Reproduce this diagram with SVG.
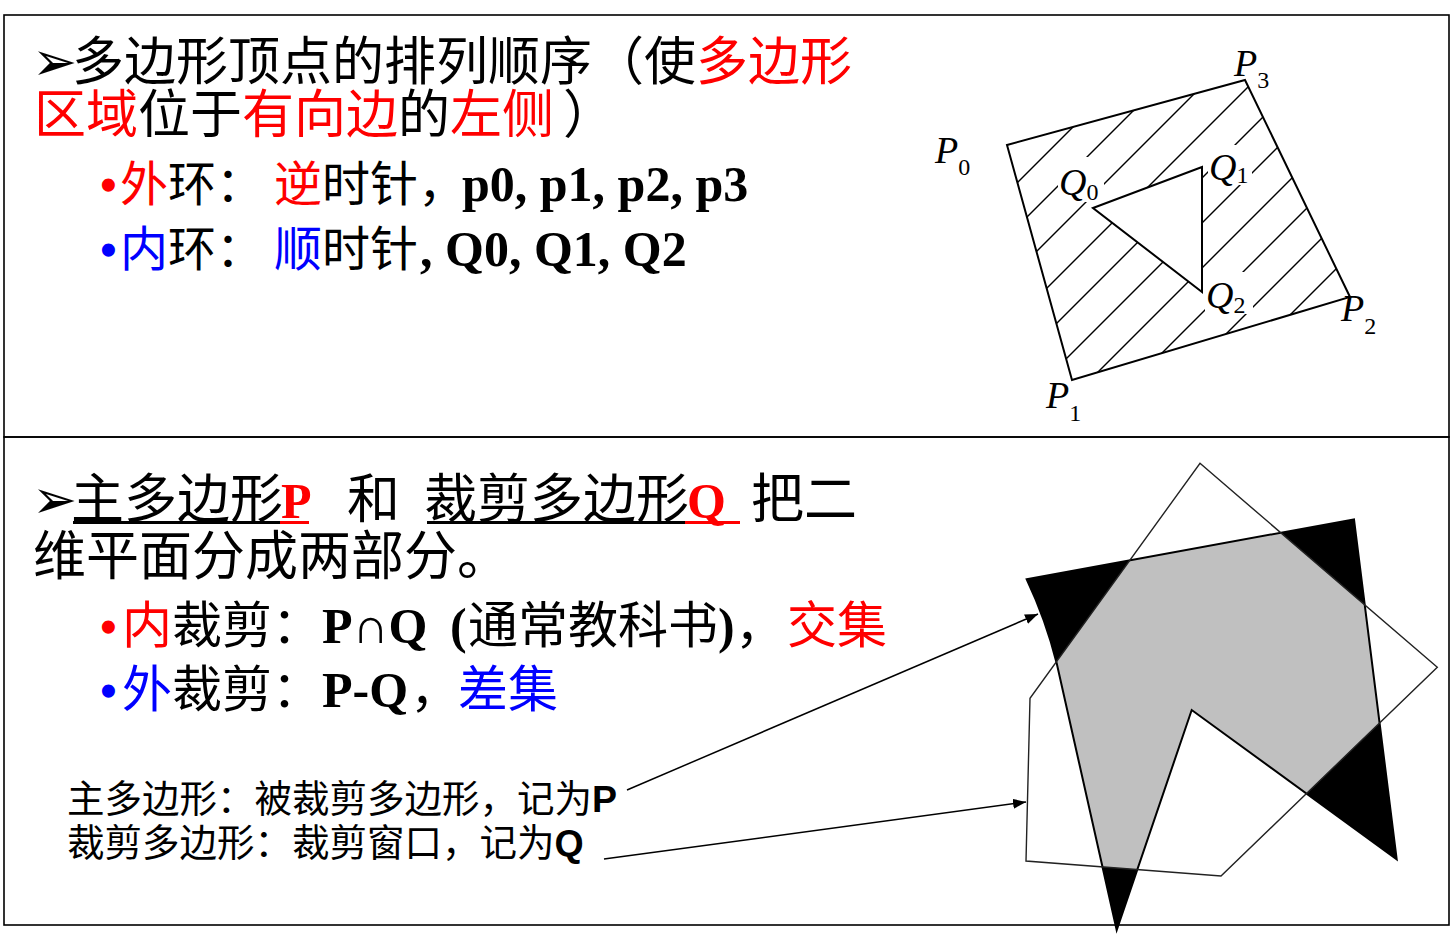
<svg xmlns="http://www.w3.org/2000/svg" width="1456" height="936" viewBox="0 0 1456 936">
<style>
.cjk{font-family:"Noto Sans CJK SC",sans-serif}
.tnr{font-family:"Liberation Serif","Noto Sans CJK SC",serif;font-weight:bold}
.sym{font-family:"DejaVu Sans",sans-serif}
.lbl{font-family:"Liberation Serif",serif;font-style:italic}
.sub{font-family:"Liberation Serif",serif;font-style:normal}
.r{fill:#ff0000}
.b{fill:#0000ff}
.k{fill:#000000}
.frame{fill:none;stroke:#000;stroke-width:1.6}
.hatch{stroke:#000;stroke-width:1.4}
.edge{fill:none;stroke:#000;stroke-width:2}
.conn{stroke:#000;stroke-width:1.5;fill:none}
</style>
<defs>
<marker id="ah" markerUnits="userSpaceOnUse" markerWidth="14" markerHeight="12" refX="13" refY="5" orient="auto">
<path d="M0,0 L13,5 L0,10 z" fill="#000"/>
</marker>
<clipPath id="ring">
<path clip-rule="evenodd" d="M1007,145 L1245,80 L1350,297 L1072,380 Z M1093,208 L1202,167 L1202,292 Z"/>
</clipPath>
<clipPath id="qclip">
<path d="M1200,463.3 L1437.3,667.3 L1221,876 L1026,861 L1030,698.3 Z"/>
</clipPath>
</defs>
<rect width="1456" height="936" fill="#fff"/>
<g id="frame">
<rect class="frame" x="4" y="15" width="1445" height="422"/>
<rect class="frame" x="4" y="437" width="1445" height="488"/>
</g>

<g id="top-text">
<text class="cjk k" y="80" font-size="52"><tspan class="sym" x="32" font-size="54">➢</tspan><tspan x="72">多边形顶点的排列顺序（使</tspan><tspan class="r">多边形</tspan></text>
<text class="cjk" y="133" font-size="52"><tspan x="34" class="r">区域</tspan><tspan class="k">位于</tspan><tspan class="r">有向边</tspan><tspan class="k">的</tspan><tspan class="r">左侧</tspan><tspan class="k" x="563">）</tspan></text>
<text id="line-outer" class="cjk" y="201" font-size="48"><tspan class="tnr r" x="100">•</tspan><tspan class="r" x="120">外</tspan><tspan class="k">环：</tspan><tspan class="r" x="274">逆</tspan><tspan class="k">时针，</tspan><tspan class="tnr k" x="462" font-size="50">p0, p1, p2, p3</tspan></text>
<text id="line-inner" class="cjk" y="266" font-size="48"><tspan class="tnr b" x="100">•</tspan><tspan class="b" x="120">内</tspan><tspan class="k">环：</tspan><tspan class="b" x="274">顺</tspan><tspan class="k">时针</tspan><tspan class="tnr k" x="420" font-size="50">, Q0, Q1, Q2</tspan></text>
</g>

<g id="top-figure">
<g clip-path="url(#ring)">
<line class="hatch" x1="950" y1="250" x2="1400" y2="-200"/>
<line class="hatch" x1="950" y1="294" x2="1400" y2="-156"/>
<line class="hatch" x1="950" y1="338" x2="1400" y2="-112"/>
<line class="hatch" x1="950" y1="385" x2="1400" y2="-65"/>
<line class="hatch" x1="950" y1="430" x2="1400" y2="-20"/>
<line class="hatch" x1="950" y1="475" x2="1400" y2="25"/>
<line class="hatch" x1="950" y1="520" x2="1400" y2="70"/>
<line class="hatch" x1="950" y1="565" x2="1400" y2="115"/>
<line class="hatch" x1="950" y1="610" x2="1400" y2="160"/>
<line class="hatch" x1="950" y1="655" x2="1400" y2="205"/>
</g>
<polygon class="edge" points="1007,145 1245,80 1350,297 1072,380"/>
<polygon class="edge" points="1093,208 1202,167 1202,292"/>
<rect x="1058" y="157" width="46" height="45" fill="#fff"/>
<rect x="1208" y="145" width="44" height="40" fill="#fff"/>
<rect x="1205" y="272" width="48" height="42" fill="#fff"/>
<text id="lbl-P0" class="lbl k" x="935" y="163" font-size="38">P<tspan class="sub" font-size="24" dy="12">0</tspan></text>
<text id="lbl-P1" class="lbl k" x="1046" y="408" font-size="38">P<tspan class="sub" font-size="24" dy="13">1</tspan></text>
<text id="lbl-P2" class="lbl k" x="1341" y="321" font-size="38">P<tspan class="sub" font-size="24" dy="13">2</tspan></text>
<text id="lbl-P3" class="lbl k" x="1234" y="76" font-size="38">P<tspan class="sub" font-size="24" dy="12">3</tspan></text>
<text id="lbl-Q0" class="lbl k" x="1059" y="195" font-size="38">Q<tspan class="sub" font-size="24" dy="5">0</tspan></text>
<text id="lbl-Q1" class="lbl k" x="1209" y="180" font-size="38">Q<tspan class="sub" font-size="24" dy="3">1</tspan></text>
<text id="lbl-Q2" class="lbl k" x="1206" y="308" font-size="38">Q<tspan class="sub" font-size="24" dy="5">2</tspan></text>
</g>

<g id="bottom-text">
<text class="cjk k" y="518" font-size="53"><tspan class="sym" x="32" font-size="54">➢</tspan><tspan x="71">主多边形</tspan><tspan class="tnr r" x="281" font-size="50">P</tspan><tspan x="347">和</tspan><tspan x="424">裁剪多边形</tspan><tspan class="tnr r" x="687" font-size="50">Q</tspan><tspan x="751">把二</tspan></text>
<line x1="73" y1="522.5" x2="280" y2="522.5" stroke="#000" stroke-width="3"/>
<line x1="280" y1="522.5" x2="309" y2="522.5" stroke="#f00" stroke-width="3"/>
<line x1="427" y1="522.5" x2="685" y2="522.5" stroke="#000" stroke-width="3"/>
<line x1="685" y1="522.5" x2="740" y2="522.5" stroke="#f00" stroke-width="3"/>
<text class="cjk k" x="33" y="575" font-size="53">维平面分成两部分。</text>
<text id="line-inclip" class="cjk k" y="643" font-size="50"><tspan class="tnr r" x="100" font-size="48">•</tspan><tspan class="r" x="122">内</tspan><tspan>裁剪：</tspan><tspan class="tnr" x="322">P∩Q</tspan><tspan class="tnr" x="450">(</tspan><tspan x="468">通常教科书</tspan><tspan class="tnr" x="718">)</tspan><tspan x="735">，</tspan><tspan class="r" x="787">交集</tspan></text>
<text id="line-outclip" class="cjk k" y="707" font-size="50"><tspan class="tnr b" x="100" font-size="48">•</tspan><tspan class="b" x="122">外</tspan><tspan>裁剪：</tspan><tspan class="tnr" x="322">P-Q</tspan><tspan x="410">，</tspan><tspan class="b" x="458">差集</tspan></text>
<text id="note-P" class="cjk k" x="67" y="812" font-size="37.5">主多边形：被裁剪多边形，记为<tspan font-family="Liberation Sans" font-weight="bold">P</tspan></text>
<text id="note-Q" class="cjk k" x="67" y="856" font-size="37.5">裁剪多边形：裁剪窗口，记为<tspan font-family="Liberation Sans" font-weight="bold">Q</tspan></text>
</g>

<g id="bottom-figure">
<path id="polyP-black" d="M1026.7,579.3 L1354,519.3 L1396.7,859.3 L1191.7,710 L1116.7,930 L1056.7,663.3 Q1046,620 1026.7,579.3 Z" fill="#000"/>
<path id="polyP-gray" clip-path="url(#qclip)" d="M1026.7,579.3 L1354,519.3 L1396.7,859.3 L1191.7,710 L1116.7,930 L1056.7,663.3 Q1046,620 1026.7,579.3 Z" fill="#c0c0c0"/>
<path d="M1026.7,579.3 L1354,519.3 L1396.7,859.3 L1191.7,710 L1116.7,930 L1056.7,663.3 Q1046,620 1026.7,579.3 Z" fill="none" stroke="#000" stroke-width="2"/>
<polygon id="polyQ" points="1200,463.3 1437.3,667.3 1221,876 1026,861 1030,698.3" fill="none" stroke="#222" stroke-width="1.4"/>
</g>

<g id="connectors">
<line class="conn" x1="627" y1="790" x2="1038" y2="614" marker-end="url(#ah)"/>
<line class="conn" x1="604" y1="859" x2="1026" y2="802" marker-end="url(#ah)"/>
</g>
</svg>
